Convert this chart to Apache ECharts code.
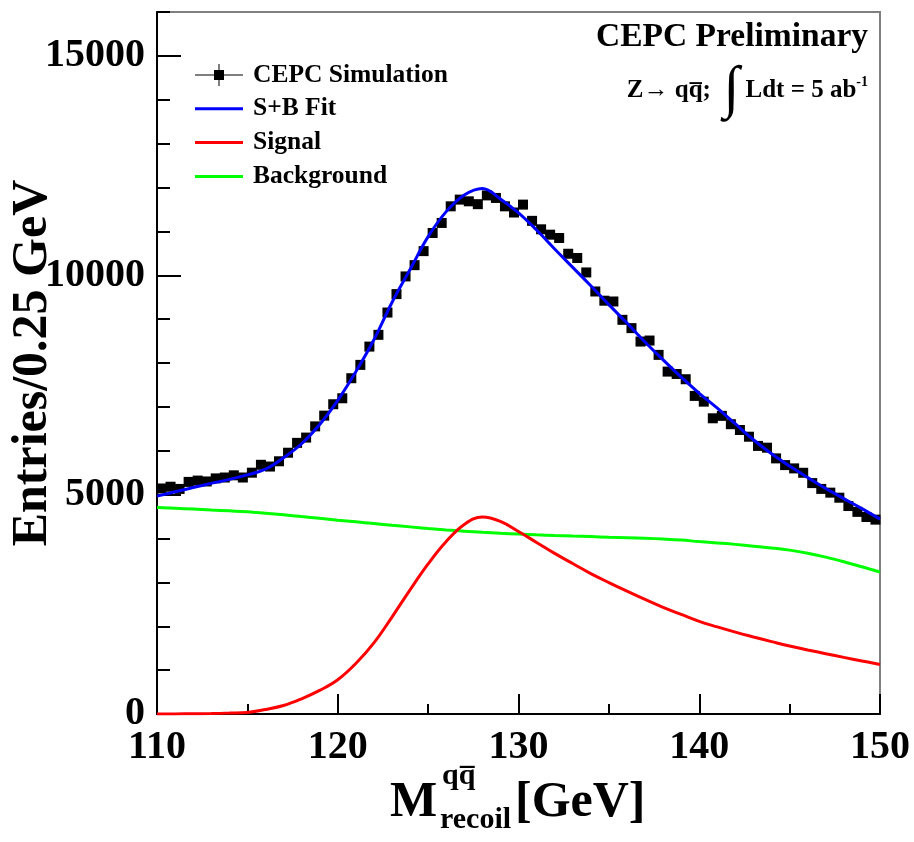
<!DOCTYPE html>
<html>
<head>
<meta charset="utf-8">
<script src="https://cdn.jsdelivr.net/npm/echarts@6/dist/echarts.min.js"></script>
<style>
  html, body { margin: 0; padding: 0; background: #fff; }
  #main { width: 914px; height: 842px; }
</style>
</head>
<body>
<div id="main"></div>
<script>
// Simulated recoil-mass spectrum: bin centres start at 110.25 GeV, 0.5 GeV apart
const binStart = 110.25;
const binWidth = 0.5;
const simEntries = [
  5140, 5180, 5130, 5290, 5320, 5300, 5370, 5390, 5440, 5390,
  5500, 5680, 5640, 5760, 5955, 6180, 6300, 6555, 6800, 7060,
  7196, 7653, 7957, 8374, 8642, 9150, 9570, 9973, 10230, 10550,
  10963, 11192, 11571, 11724, 11685, 11620, 11820, 11762, 11571, 11430,
  11610, 11240, 11047, 10925, 10849, 10490, 10393, 10064, 9630, 9420,
  9402, 8984, 8795, 8489, 8512, 8185, 7804, 7750, 7630, 7250,
  7119, 6740, 6795, 6605, 6473, 6320, 6110, 6070, 5826, 5673,
  5598, 5498, 5263, 5130, 5045, 4930, 4740, 4607, 4490, 4430
];

// Fit curves, sampled every 1 GeV
const curveMass = [
  110, 111, 112, 113, 114, 115, 116, 117, 118, 119,
  120, 121, 122, 123, 124, 125, 126, 127, 128, 129,
  130, 131, 132, 133, 134, 135, 136, 137, 138, 139,
  140, 141, 142, 143, 144, 145, 146, 147, 148, 149, 150
];
const fitSB = [
  4966, 5064, 5164, 5256, 5347, 5450, 5580, 5840, 6160, 6600,
  7150, 7800, 8530, 9380, 10130, 10880, 11450, 11830, 11980, 11740,
  11420, 11030, 10600, 10180, 9760, 9330, 8910, 8480, 8070, 7680,
  7310, 6970, 6610, 6250, 5930, 5650, 5390, 5140, 4910, 4680, 4441
];
const signal = [
  0, 2, 5, 10, 20, 35, 103, 194, 347, 537,
  780, 1150, 1620, 2210, 2830, 3420, 3930, 4320, 4490, 4390,
  4160, 3910, 3660, 3430, 3200, 2995, 2800, 2610, 2430, 2270,
  2112, 1985, 1865, 1755, 1650, 1548, 1460, 1375, 1290, 1210, 1130
];
const background = [
  4708, 4690, 4670, 4650, 4630, 4608, 4575, 4540, 4500, 4460,
  4418, 4380, 4340, 4300, 4265, 4228, 4195, 4168, 4143, 4120,
  4100, 4083, 4068, 4055, 4043, 4031, 4019, 4005, 3988, 3965,
  3930, 3900, 3866, 3826, 3785, 3735, 3665, 3575, 3470, 3355, 3237
];

// Axis ticks
const yMajorTicks = [0, 5000, 10000, 15000];
const yMinorTicks = [1000, 2000, 3000, 4000, 6000, 7000, 8000, 9000,
                     11000, 12000, 13000, 14000, 16000];

const FONT = '"Liberation Serif", "Times New Roman", serif';
const chart = echarts.init(document.getElementById('main'), null, { renderer: 'canvas' });

const simPoints = simEntries.map((v, i) => [binStart + i * binWidth, v]);
const pairs = arr => curveMass.map((m, i) => [m, arr[i]]);
const LINE_ICON = 'path://M0,9.5H48V12.5H0Z';

const option = {
  animation: false,
  backgroundColor: '#fff',
  grid: {
    left: 157, top: 12, width: 723, height: 702,
    containLabel: false, outerBoundsMode: 'none',
    show: true, borderColor: '#808080', borderWidth: 2, backgroundColor: 'transparent'
  },
  legend: {
    orient: 'vertical',
    left: 190, top: 57,
    itemWidth: 48, itemHeight: 22, itemGap: 7.8,
    selectedMode: false,
    textStyle: { fontFamily: FONT, fontWeight: 'bold', fontSize: 25.5, color: '#000', padding: [0, 0, 0, 5] },
    data: [
      { name: 'CEPC Simulation',
        icon: 'path://M0,10.5H48V11.5H0Z M19,6H29V16H19Z M23.5,0H24.5V22H23.5Z' },
      { name: 'S+B Fit', icon: LINE_ICON },
      { name: 'Signal', icon: LINE_ICON },
      { name: 'Background', icon: LINE_ICON }
    ]
  },
  xAxis: {
    type: 'value', min: 110, max: 150, interval: 10,
    axisLine: { show: true, onZero: false, lineStyle: { color: '#000', width: 2 } },
    axisTick: { show: true, inside: true, length: 20, lineStyle: { color: '#000', width: 2 } },
    minorTick: { show: true, splitNumber: 2, length: 10, lineStyle: { color: '#000', width: 2 } },
    axisLabel: { fontFamily: FONT, fontWeight: 'bold', fontSize: 40, color: '#000', margin: 14,
                 formatter: v => String(v) },
    splitLine: { show: false }
  },
  yAxis: [
    {
      type: 'value', min: 0, max: 16000, position: 'left', offset: 0,
      axisLine: { show: true, lineStyle: { color: '#000', width: 2 } },
      axisTick: { show: true, inside: true, length: 24, customValues: yMajorTicks,
                  lineStyle: { color: '#000', width: 2 } },
      axisLabel: { customValues: yMajorTicks, fontFamily: FONT, fontWeight: 'bold',
                   fontSize: 40, color: '#000', margin: 12, formatter: v => String(v) },
      splitLine: { show: false },
      name: 'Entries/0.25 GeV', nameLocation: 'middle', nameRotate: 90, nameGap: 99,
      nameMoveOverlap: false,
      nameTextStyle: { fontFamily: FONT, fontWeight: 'bold', fontSize: 50, color: '#000' }
    },
    {
      type: 'value', min: 0, max: 16000, position: 'left', offset: 0,
      axisLine: { show: false },
      axisTick: { show: true, inside: true, length: 13, customValues: yMinorTicks,
                  lineStyle: { color: '#000', width: 2 } },
      axisLabel: { show: false },
      splitLine: { show: false }
    }
  ],
  series: [
    {
      name: 'CEPC Simulation', type: 'scatter', data: simPoints,
      symbol: 'rect', symbolSize: 10, itemStyle: { color: '#000', opacity: 1 }, z: 2, clip: true
    },
    {
      name: 'Background', type: 'line', data: pairs(background), smooth: 0.4,
      showSymbol: false, symbol: 'none', lineStyle: { color: '#00ff00', width: 3 },
      itemStyle: { color: '#00ff00' }, z: 3
    },
    {
      name: 'Signal', type: 'line', data: pairs(signal), smooth: 0.4,
      showSymbol: false, symbol: 'none', lineStyle: { color: '#ff0000', width: 3 },
      itemStyle: { color: '#ff0000' }, z: 3
    },
    {
      name: 'S+B Fit', type: 'line', data: pairs(fitSB), smooth: 0.4,
      showSymbol: false, symbol: 'none', lineStyle: { color: '#0000ff', width: 3 },
      itemStyle: { color: '#0000ff' }, z: 4
    }
  ],
  graphic: [
    {
      type: 'text', x: 868, y: 37, z: 10,
      style: { text: 'CEPC Preliminary', fill: '#000', align: 'right', verticalAlign: 'middle',
               font: 'bold 33.5px ' + FONT }
    },
    {
      type: 'text', x: 868, y: 91, z: 10,
      style: {
        text: '{t|Z\u2192 qq\u0305;  }{i|\u222B}{t| Ldt = 5 ab}{s|-1}',
        align: 'right', verticalAlign: 'middle', fill: '#000',
        rich: {
          t: { font: 'bold 25px ' + FONT, fill: '#000' },
          i: { font: '58px ' + FONT, fill: '#000' },
          s: { font: 'bold 14px ' + FONT, fill: '#000', padding: [0, 0, 18, 0] }
        }
      }
    },
    {
      type: 'group', z: 10,
      children: [
        { type: 'text', x: 390, y: 803,
          style: { text: 'M', font: 'bold 50px ' + FONT, fill: '#000', align: 'left', verticalAlign: 'middle' } },
        { type: 'text', x: 442, y: 776,
          style: { text: 'qq\u0305', font: 'bold 30px ' + FONT, fill: '#000', align: 'left', verticalAlign: 'middle' } },
        { type: 'text', x: 440, y: 820,
          style: { text: 'recoil', font: 'bold 30px ' + FONT, fill: '#000', align: 'left', verticalAlign: 'middle' } },
        { type: 'text', x: 515, y: 803,
          style: { text: '[GeV]', font: 'bold 50px ' + FONT, fill: '#000', align: 'left', verticalAlign: 'middle' } }
      ]
    }
  ]
};

chart.setOption(option);
</script>
</body>
</html>
